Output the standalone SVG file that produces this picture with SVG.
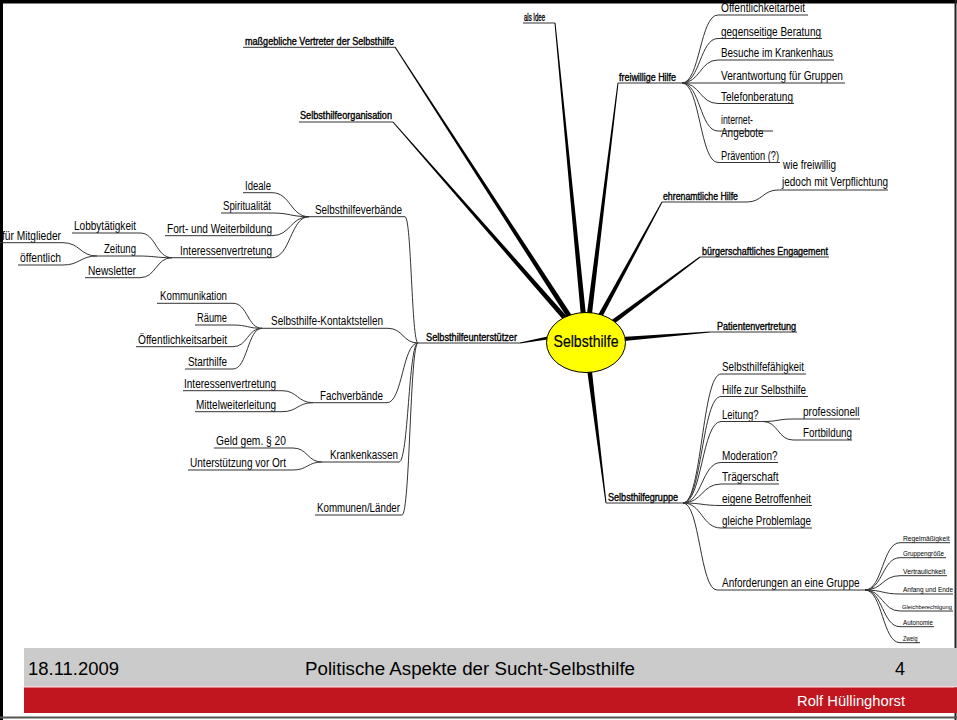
<svg xmlns="http://www.w3.org/2000/svg" width="957" height="720" viewBox="0 0 957 720">
<style>
text{font-family:"Liberation Sans",Arial,sans-serif;fill:#000}
.t1{font-size:10px;font-weight:normal;stroke:#000;stroke-width:0.35}
.t2{font-size:12.5px}
.t3{font-size:7px}
.ul{stroke:#333;stroke-width:1;fill:none}
.cv{stroke:#333;stroke-width:1;fill:none}
.br{fill:#000}
.ft{font-size:18px}
</style>
<rect x="0" y="0" width="957" height="720" fill="#fff"/>
<!-- frame -->
<rect x="0" y="0" width="957" height="3.5" fill="#000"/>
<rect x="0" y="0" width="3" height="720" fill="#000"/>
<rect x="954.5" y="0" width="2" height="720" fill="#222"/>
<rect x="0" y="716.5" width="957" height="2" fill="#555"/>

<g id="connectors">
  <!-- main branches -->
  <polygon class="br" points="394.58,47.27 583.69,343.49 588.31,340.51 395.42,46.73"/>
  <polygon class="br" points="392.62,122.33 583.93,343.81 588.07,340.19 393.38,121.67"/>
  <polygon class="br" points="554.5,23.05 583.26,342.27 588.74,341.73 555.5,22.95"/>
  <polygon class="br" points="617.5,82.94 583.27,341.66 588.73,342.34 618.5,83.06"/>
  <polygon class="br" points="661.56,201.76 583.58,340.69 588.42,343.31 662.44,202.24"/>
  <polygon class="br" points="699.7,256.6 584.36,339.8 587.64,344.2 700.3,257.4"/>
  <polygon class="br" points="709.96,331.5 585.78,339.26 586.22,344.74 710.04,332.5"/>
  <polygon class="br" points="606.5,502.94 588.73,341.66 583.27,342.34 605.5,503.06"/>
  <polygon class="br" points="520.09,343.49 586.49,333.71 585.51,328.29 519.91,342.51"/>
  <!-- freiwillige Hilfe -->
  <path class="cv" d="M682,83 C700,83 700,15 718,15"/>
  <path class="cv" d="M682,83 C700,83 700,38.5 718,38.5"/>
  <path class="cv" d="M682,83 C700,83 700,60 718,60"/>
  <path class="cv" d="M682,83 L718,83"/>
  <path class="cv" d="M682,83 C700,83 700,103.5 718,103.5"/>
  <path class="cv" d="M682,83 C700,83 700,131 718,131"/>
  <path class="cv" d="M682,83 C700,83 700,162.5 718,162.5"/>
  <!-- ehrenamtliche -->
  <path class="cv" d="M747,202 C762,202 763,190 778,190"/>
  <!-- Selbsthilfegruppe -->
  <path class="cv" d="M683,503 C702,503 702,374 721,374"/>
  <path class="cv" d="M683,503 C702,503 702,396.5 721,396.5"/>
  <path class="cv" d="M683,503 C702,503 702,421.5 721,421.5"/>
  <path class="cv" d="M683,503 C702,503 702,462.5 721,462.5"/>
  <path class="cv" d="M683,503 C702,503 702,484 721,484"/>
  <path class="cv" d="M683,503 C702,503 702,505.5 721,505.5"/>
  <path class="cv" d="M683,503 C702,503 702,528 721,528"/>
  <path class="cv" d="M683,503 C700,503 700,590 717,590"/>
  <!-- Leitung -->
  <path class="cv" d="M763,421.5 C778,421.5 778,419 793,419"/>
  <path class="cv" d="M763,421.5 C778,421.5 778,440 793,440"/>
  <!-- Anforderungen -->
  <path class="cv" d="M865,590 C882.5,590 882.5,542.7 900,542.7"/>
  <path class="cv" d="M865,590 C882.5,590 882.5,557.7 900,557.7"/>
  <path class="cv" d="M865,590 C882.5,590 882.5,575.7 900,575.7"/>
  <path class="cv" d="M865,590 C882.5,590 882.5,594 900,594"/>
  <path class="cv" d="M865,590 C882.5,590 882.5,611 900,611"/>
  <path class="cv" d="M865,590 C882.5,590 882.5,626.7 900,626.7"/>
  <path class="cv" d="M865,590 C882.5,590 882.5,642.7 900,642.7"/>
  <!-- Selbsthilfeunterstützer -->
  <path class="cv" d="M405,216.7 C411.5,216.7 411.5,343 418,343"/>
  <path class="cv" d="M388,328.3 C403,328.3 403,343 418,343"/>
  <path class="cv" d="M387,402.7 C402.5,402.7 402.5,343 418,343"/>
  <path class="cv" d="M399,462 C408.5,462 408.5,343 418,343"/>
  <path class="cv" d="M402,515 C410,515 410,343 418,343"/>
  <!-- Selbsthilfeverbände -->
  <path class="cv" d="M272,192.7 C290.5,192.7 290.5,216.7 309,216.7"/>
  <path class="cv" d="M272,213 C290.5,213 290.5,216.7 309,216.7"/>
  <path class="cv" d="M272,235.7 C290.5,235.7 290.5,216.7 309,216.7"/>
  <path class="cv" d="M272,257.7 C290.5,257.7 290.5,216.7 309,216.7"/>
  <!-- Interessenvertretung -->
  <path class="cv" d="M140,233 C156,233 156,257.7 172,257.7"/>
  <path class="cv" d="M138,256 C155,256 155,257.7 172,257.7"/>
  <path class="cv" d="M140,277.7 C156,277.7 156,257.7 172,257.7"/>
  <!-- Zeitung -->
  <path class="cv" d="M63,242.7 C80,242.7 80,256 97,256"/>
  <path class="cv" d="M63,265 C80,265 80,256 97,256"/>
  <!-- Kontaktstellen -->
  <path class="cv" d="M233,303.3 C247.5,303.3 247.5,328.3 262,328.3"/>
  <path class="cv" d="M233,325 C247.5,325 247.5,328.3 262,328.3"/>
  <path class="cv" d="M233,346.7 C247.5,346.7 247.5,328.3 262,328.3"/>
  <path class="cv" d="M233,369 C247.5,369 247.5,328.3 262,328.3"/>
  <!-- Fachverbände -->
  <path class="cv" d="M282,390.7 C297.5,390.7 297.5,402.7 313,402.7"/>
  <path class="cv" d="M282,411.7 C297.5,411.7 297.5,402.7 313,402.7"/>
  <!-- Krankenkassen -->
  <path class="cv" d="M293,448 C307.5,448 307.5,462 322,462"/>
  <path class="cv" d="M293,470 C307.5,470 307.5,462 322,462"/>
</g>

<g id="center">
  <ellipse cx="586" cy="342.5" rx="39.5" ry="30" fill="#ffff00" stroke="#000" stroke-width="1"/>
  <text x="553.5" y="346.5" font-size="16.5" textLength="65" lengthAdjust="spacingAndGlyphs" stroke="#000" stroke-width="0.2">Selbsthilfe</text>
</g>

<!-- level 1 -->
<g id="n-massgebliche"><text class="t1" x="245" y="44.5" textLength="149" lengthAdjust="spacingAndGlyphs">maßgebliche Vertreter der Selbsthilfe</text><line class="ul" x1="243" y1="47.3" x2="395" y2="47.3"/></g>
<g id="n-organisation"><text class="t1" x="300" y="119" textLength="92" lengthAdjust="spacingAndGlyphs">Selbsthilfeorganisation</text><line class="ul" x1="299" y1="122" x2="393" y2="122"/></g>
<g id="n-idee"><text class="t1" x="524" y="20.5" textLength="21" lengthAdjust="spacingAndGlyphs">als Idee</text><line class="ul" x1="523" y1="23" x2="555" y2="23"/></g>
<g id="n-freiwillig"><text class="t1" x="619" y="80.5" textLength="57" lengthAdjust="spacingAndGlyphs">freiwillige Hilfe</text><line class="ul" x1="618" y1="83" x2="682" y2="83"/></g>
<g id="n-ehrenamt"><text class="t1" x="663" y="199.5" textLength="75" lengthAdjust="spacingAndGlyphs">ehrenamtliche Hilfe</text><line class="ul" x1="662" y1="202" x2="747" y2="202"/></g>
<g id="n-buerger"><text class="t1" x="702" y="254.5" textLength="126" lengthAdjust="spacingAndGlyphs">bürgerschaftliches Engagement</text><line class="ul" x1="700" y1="257" x2="829" y2="257"/></g>
<g id="n-patient"><text class="t1" x="717" y="329.5" textLength="79" lengthAdjust="spacingAndGlyphs">Patientenvertretung</text><line class="ul" x1="710" y1="332" x2="797" y2="332"/></g>
<g id="n-gruppe"><text class="t1" x="608" y="500.5" textLength="70" lengthAdjust="spacingAndGlyphs">Selbsthilfegruppe</text><line class="ul" x1="606" y1="503" x2="683" y2="503"/></g>
<g id="n-unterstuetzer"><text class="t1" x="426" y="340.5" textLength="91" lengthAdjust="spacingAndGlyphs">Selbsthilfeunterstützer</text><line class="ul" x1="418" y1="343" x2="520" y2="343"/></g>

<!-- freiwillige Hilfe children -->
<g id="n-oeff1"><text class="t2" x="721" y="12" textLength="84" lengthAdjust="spacingAndGlyphs">Öffentlichkeitarbeit</text><line class="ul" x1="718" y1="15" x2="808" y2="15"/></g>
<g id="n-gegenseitig"><text class="t2" x="721" y="35.5" textLength="100" lengthAdjust="spacingAndGlyphs">gegenseitige Beratung</text><line class="ul" x1="718" y1="38.5" x2="822" y2="38.5"/></g>
<g id="n-besuche"><text class="t2" x="721" y="57" textLength="112" lengthAdjust="spacingAndGlyphs">Besuche im Krankenhaus</text><line class="ul" x1="718" y1="60" x2="834" y2="60"/></g>
<g id="n-verantwortung"><text class="t2" x="721" y="80" textLength="122" lengthAdjust="spacingAndGlyphs">Verantwortung für Gruppen</text><line class="ul" x1="718" y1="83" x2="845" y2="83"/></g>
<g id="n-telefon"><text class="t2" x="721" y="100.5" textLength="72" lengthAdjust="spacingAndGlyphs">Telefonberatung</text><line class="ul" x1="718" y1="103.5" x2="794" y2="103.5"/></g>
<g id="n-internet"><text class="t2" x="721" y="123.5" textLength="32" lengthAdjust="spacingAndGlyphs">internet-</text><text class="t2" x="721" y="136.5" textLength="42.5" lengthAdjust="spacingAndGlyphs">Angebote</text><line class="ul" x1="718" y1="131" x2="773" y2="131"/></g>
<g id="n-praevention"><text class="t2" x="721" y="159.5" textLength="58" lengthAdjust="spacingAndGlyphs">Prävention (?)</text><line class="ul" x1="718" y1="162.5" x2="780" y2="162.5"/></g>
<g id="n-wiefreiwillig"><text class="t2" x="783" y="168.5" textLength="53" lengthAdjust="spacingAndGlyphs">wie freiwillig</text><text class="t2" x="782" y="186" textLength="106" lengthAdjust="spacingAndGlyphs">jedoch mit Verpflichtung</text><line class="ul" x1="778" y1="190" x2="888" y2="190"/></g>

<!-- Selbsthilfegruppe children -->
<g id="n-faehigkeit"><text class="t2" x="722" y="371" textLength="82" lengthAdjust="spacingAndGlyphs">Selbsthilfefähigkeit</text><line class="ul" x1="721" y1="374" x2="806" y2="374"/></g>
<g id="n-hilfezur"><text class="t2" x="722" y="393.5" textLength="84" lengthAdjust="spacingAndGlyphs">Hilfe zur Selbsthilfe</text><line class="ul" x1="721" y1="396.5" x2="808" y2="396.5"/></g>
<g id="n-leitung"><text class="t2" x="722" y="418.5" textLength="36.5" lengthAdjust="spacingAndGlyphs">Leitung?</text><line class="ul" x1="721" y1="421.5" x2="763" y2="421.5"/></g>
<g id="n-professionell"><text class="t2" x="803" y="416" textLength="56.5" lengthAdjust="spacingAndGlyphs">professionell</text><line class="ul" x1="793" y1="419" x2="860" y2="419"/></g>
<g id="n-fortbildung"><text class="t2" x="803" y="437" textLength="49" lengthAdjust="spacingAndGlyphs">Fortbildung</text><line class="ul" x1="793" y1="440" x2="852" y2="440"/></g>
<g id="n-moderation"><text class="t2" x="722" y="459.5" textLength="55.5" lengthAdjust="spacingAndGlyphs">Moderation?</text><line class="ul" x1="721" y1="462.5" x2="778" y2="462.5"/></g>
<g id="n-traeger"><text class="t2" x="722" y="481" textLength="56.5" lengthAdjust="spacingAndGlyphs">Trägerschaft</text><line class="ul" x1="721" y1="484" x2="779" y2="484"/></g>
<g id="n-eigene"><text class="t2" x="722" y="502.5" textLength="89" lengthAdjust="spacingAndGlyphs">eigene Betroffenheit</text><line class="ul" x1="721" y1="505.5" x2="812" y2="505.5"/></g>
<g id="n-gleiche"><text class="t2" x="722" y="525" textLength="89" lengthAdjust="spacingAndGlyphs">gleiche Problemlage</text><line class="ul" x1="721" y1="528" x2="812" y2="528"/></g>
<g id="n-anforderungen"><text class="t2" x="722" y="587" textLength="137.5" lengthAdjust="spacingAndGlyphs">Anforderungen an eine Gruppe</text><line class="ul" x1="717" y1="590" x2="865" y2="590"/></g>

<!-- Anforderungen children -->
<g id="n-regel"><text class="t3" x="903" y="540.7" textLength="46.5" lengthAdjust="spacingAndGlyphs">Regelmäßigkeit</text><line class="ul" x1="900" y1="542.7" x2="950" y2="542.7"/></g>
<g id="n-groesse"><text class="t3" x="903" y="555.7" textLength="41" lengthAdjust="spacingAndGlyphs">Gruppengröße</text><line class="ul" x1="900" y1="557.7" x2="946" y2="557.7"/></g>
<g id="n-vertraulich"><text class="t3" x="903" y="573.7" textLength="42.5" lengthAdjust="spacingAndGlyphs">Vertraulichkeit</text><line class="ul" x1="900" y1="575.7" x2="947" y2="575.7"/></g>
<g id="n-anfang"><text class="t3" x="903" y="592" textLength="50" lengthAdjust="spacingAndGlyphs">Anfang und Ende</text><line class="ul" x1="900" y1="594" x2="953" y2="594"/></g>
<g id="n-gleichber"><text x="902" y="609" font-size="6" textLength="50" lengthAdjust="spacingAndGlyphs">Gleichberechtigung</text><line class="ul" x1="900" y1="611" x2="953" y2="611"/></g>
<g id="n-autonomie"><text class="t3" x="903" y="624.7" textLength="30" lengthAdjust="spacingAndGlyphs">Autonomie</text><line class="ul" x1="900" y1="626.7" x2="934" y2="626.7"/></g>
<g id="n-zweig"><text class="t3" x="903" y="640.7" textLength="14.5" lengthAdjust="spacingAndGlyphs">Zweig</text><line class="ul" x1="900" y1="642.7" x2="920" y2="642.7"/></g>

<!-- left side -->
<g id="n-verbaende"><text class="t2" x="315" y="213.7" textLength="87" lengthAdjust="spacingAndGlyphs">Selbsthilfeverbände</text><line class="ul" x1="309" y1="216.7" x2="405" y2="216.7"/></g>
<g id="n-ideale"><text class="t2" x="245" y="189.7" textLength="26" lengthAdjust="spacingAndGlyphs">Ideale</text><line class="ul" x1="243" y1="192.7" x2="272" y2="192.7"/></g>
<g id="n-spirit"><text class="t2" x="223" y="210" textLength="48" lengthAdjust="spacingAndGlyphs">Spiritualität</text><line class="ul" x1="221" y1="213" x2="272" y2="213"/></g>
<g id="n-fortweiter"><text class="t2" x="167" y="232.7" textLength="105" lengthAdjust="spacingAndGlyphs">Fort- und Weiterbildung</text><line class="ul" x1="165" y1="235.7" x2="272" y2="235.7"/></g>
<g id="n-interessen1"><text class="t2" x="180" y="254.7" textLength="92" lengthAdjust="spacingAndGlyphs">Interessenvertretung</text><line class="ul" x1="172" y1="257.7" x2="272" y2="257.7"/></g>
<g id="n-lobby"><text class="t2" x="74" y="230" textLength="62" lengthAdjust="spacingAndGlyphs">Lobbytätigkeit</text><line class="ul" x1="72" y1="233" x2="140" y2="233"/></g>
<g id="n-zeitung"><text class="t2" x="104" y="253" textLength="32" lengthAdjust="spacingAndGlyphs">Zeitung</text><line class="ul" x1="97" y1="256" x2="138" y2="256"/></g>
<g id="n-newsletter"><text class="t2" x="88" y="274.7" textLength="48" lengthAdjust="spacingAndGlyphs">Newsletter</text><line class="ul" x1="85" y1="277.7" x2="140" y2="277.7"/></g>
<g id="n-mitglieder"><text class="t2" x="2" y="239.7" textLength="59" lengthAdjust="spacingAndGlyphs">für Mitglieder</text><line class="ul" x1="0" y1="242.7" x2="63" y2="242.7"/></g>
<g id="n-oeffentlich"><text class="t2" x="20" y="262" textLength="41" lengthAdjust="spacingAndGlyphs">öffentlich</text><line class="ul" x1="18" y1="265" x2="63" y2="265"/></g>

<g id="n-kontakt"><text class="t2" x="271" y="325.3" textLength="112" lengthAdjust="spacingAndGlyphs">Selbsthilfe-Kontaktstellen</text><line class="ul" x1="262" y1="328.3" x2="388" y2="328.3"/></g>
<g id="n-kommunikation"><text class="t2" x="160" y="300.3" textLength="67" lengthAdjust="spacingAndGlyphs">Kommunikation</text><line class="ul" x1="157" y1="303.3" x2="233" y2="303.3"/></g>
<g id="n-raeume"><text class="t2" x="197" y="322" textLength="30" lengthAdjust="spacingAndGlyphs">Räume</text><line class="ul" x1="195" y1="325" x2="233" y2="325"/></g>
<g id="n-oeff2"><text class="t2" x="138" y="343.7" textLength="89" lengthAdjust="spacingAndGlyphs">Öffentlichkeitsarbeit</text><line class="ul" x1="136" y1="346.7" x2="233" y2="346.7"/></g>
<g id="n-starthilfe"><text class="t2" x="188" y="366" textLength="39" lengthAdjust="spacingAndGlyphs">Starthilfe</text><line class="ul" x1="185" y1="369" x2="233" y2="369"/></g>

<g id="n-fach"><text class="t2" x="320" y="399.7" textLength="63" lengthAdjust="spacingAndGlyphs">Fachverbände</text><line class="ul" x1="313" y1="402.7" x2="387" y2="402.7"/></g>
<g id="n-interessen2"><text class="t2" x="184" y="387.7" textLength="92" lengthAdjust="spacingAndGlyphs">Interessenvertretung</text><line class="ul" x1="183" y1="390.7" x2="282" y2="390.7"/></g>
<g id="n-mittel"><text class="t2" x="196" y="408.7" textLength="80" lengthAdjust="spacingAndGlyphs">Mittelweiterleitung</text><line class="ul" x1="195" y1="411.7" x2="282" y2="411.7"/></g>

<g id="n-kranken"><text class="t2" x="330" y="459" textLength="68" lengthAdjust="spacingAndGlyphs">Krankenkassen</text><line class="ul" x1="322" y1="462" x2="399" y2="462"/></g>
<g id="n-geld"><text class="t2" x="216" y="445" textLength="70" lengthAdjust="spacingAndGlyphs">Geld gem. § 20</text><line class="ul" x1="214" y1="448" x2="293" y2="448"/></g>
<g id="n-vorort"><text class="t2" x="190" y="467" textLength="96" lengthAdjust="spacingAndGlyphs">Unterstützung vor Ort</text><line class="ul" x1="188" y1="470" x2="293" y2="470"/></g>

<g id="n-kommunen"><text class="t2" x="317" y="512" textLength="83" lengthAdjust="spacingAndGlyphs">Kommunen/Länder</text><line class="ul" x1="315" y1="515" x2="402" y2="515"/></g>

<!-- footer -->
<g id="footer">
  <rect x="24" y="648" width="933" height="38" fill="#cbcbcb"/>
  <rect x="24" y="686" width="933" height="1.5" fill="#f2d4d6"/>
  <rect x="24" y="687.5" width="933" height="25.5" fill="#c1161f"/>
  <text class="ft" x="28" y="675" textLength="91" lengthAdjust="spacingAndGlyphs">18.11.2009</text>
  <text class="ft" x="305" y="675" textLength="330" lengthAdjust="spacingAndGlyphs">Politische Aspekte der Sucht-Selbsthilfe</text>
  <text class="ft" x="895" y="675">4</text>
  <text x="797" y="705.5" font-size="14.3" style="fill:#fff" textLength="108" lengthAdjust="spacingAndGlyphs">Rolf Hüllinghorst</text>
</g>
</svg>
